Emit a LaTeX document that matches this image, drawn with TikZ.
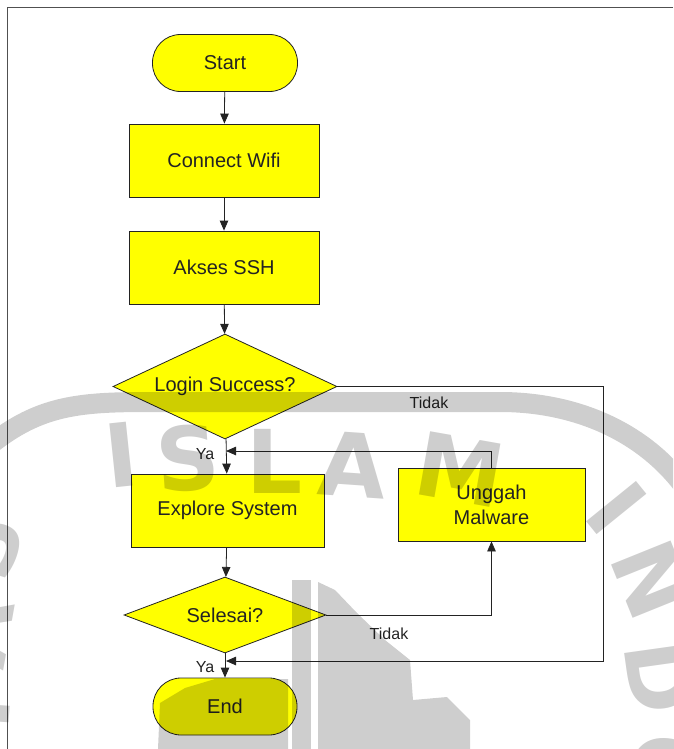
\documentclass[tikz,border=0pt]{standalone}
\usepackage{fontspec}
\setmainfont{Liberation Sans}
\newfontfamily\wmfont{DejaVu Sans}
\usetikzlibrary{shapes.geometric,arrows.meta}
\definecolor{flowyellow}{RGB}{255,255,0}
\definecolor{inkgray}{RGB}{35,35,35}
\definecolor{framegray}{RGB}{80,80,80}
\definecolor{wmgray}{RGB}{206,206,206}
\begin{document}
\begin{tikzpicture}[x=1pt,y=-1pt,
  box/.style={draw=inkgray,line width=0.8pt,fill=flowyellow,text=inkgray,
    font=\fontsize{20}{25}\selectfont,inner sep=0pt,align=center},
  proc/.style={box,rectangle,minimum width=190pt,minimum height=73pt},
  term/.style={box,rectangle,rounded corners=28pt,minimum width=145pt,minimum height=57pt},
  decide/.style={box,diamond},
  link/.style={draw=inkgray,line width=0.8pt},
  flow/.style={link,-{Triangle[length=10pt,width=8.5pt]}},
  tag/.style={font=\fontsize{16}{19}\selectfont,text=inkgray,inner sep=0pt},
  wmletter/.style={text=wmgray,font=\wmfont\fontsize{88}{88}\selectfont\bfseries,inner sep=0pt},
]
\useasboundingbox (0,0) rectangle (673,749);

% page frame
\draw[framegray,line width=0.8pt] (673,7) -- (7,7) -- (7,749);

% flowchart nodes
\node[term] (start) at (225,63) {Start};
\node[proc] (wifi) at (224,160.5) {Connect Wifi};
\node[proc] (ssh) at (224,267.5) {Akses SSH};
\node[decide,aspect=2.13,minimum width=224pt,minimum height=105pt] (login) at (225,386.5) {Login Success?};
\node[proc,minimum width=193pt] (explore) at (227.5,510.5) {Explore System};
\node[proc,minimum width=187pt] (unggah) at (491.5,504.5) {Unggah\\[0pt]Malware};
\node[decide,aspect=2.66,minimum width=202pt,minimum height=76pt] (selesai) at (225,615) {Selesai?};
\node[term,minimum width=144pt] (end) at (225,706.5) {End};

% junction points on the main line
\coordinate (ja) at (226,451);
\coordinate (jb) at (226,661);
\coordinate (rx) at (603,0);

% main flow
\draw[flow] (start) -- (wifi);
\draw[flow] (wifi) -- (ssh);
\draw[flow] (ssh) -- (login);
\draw[flow] (login) -- (explore);
\draw[flow] (explore) -- (selesai);
\draw[flow] (selesai) -- (end);

% loops
\draw[flow] (login.east) -- (login.east -| rx) |- (jb);
\draw[flow] (unggah.north) |- (ja);
\draw[flow] (selesai.east) -| (unggah.south);

% branch labels
\node[tag] (yaone) at (205,454) {Ya};
\node[tag] (tidakone) at (429,403) {Tidak};
\node[tag] (tidaktwo) at (389,634) {Tidak};
\node[tag] (yatwo) at (205,667) {Ya};

% watermark
\begin{scope}[blend mode=multiply]
  \clip (0,0) rectangle (673,749);
  \draw[wmgray,line width=20pt] (-10,445) .. controls (40,405) and (80,402) .. (150,402)
    -- (500,402) .. controls (580,402) and (650,435) .. (690,495);
  \node[wmletter,rotate=6] (wmi) at (121,455) {I};
  \node[wmletter,rotate=4] (wms) at (188,458) {S};
  \node[wmletter] (wml) at (275,461) {L};
  \node[wmletter,rotate=-4] (wma) at (353,465) {A};
  \node[wmletter,rotate=-10] (wmm) at (460,470) {M};
  \node[wmletter,rotate=-51] (wmi2) at (617,508) {I};
  \node[wmletter,rotate=-68] (wmn) at (652,580) {N};
  \node[wmletter,rotate=-82] (wmd) at (660,677) {D};
  \node[wmletter,rotate=-95] (wmo) at (665,772) {O};
  \node[wmletter,rotate=72] (wms2) at (-14,545) {S};
  \node[wmletter,rotate=80] (wma2) at (-22,632) {A};
  \node[wmletter,rotate=86] (wmt2) at (-22,712) {T};
  % emblem
  \fill[wmgray] (292,580) -- (311,580) -- (311,749) -- (292,749) -- cycle;
  \fill[wmgray] (318,582) -- (335,590) -- (357,613) -- (385,640) -- (410,660)
    -- (413,700) -- (447,697) -- (470,720) -- (470,749) -- (318,749) -- cycle;
  \fill[wmgray] (158,749) -- (160,703) -- (185,688) -- (215,679) -- (288,679)
    -- (288,749) -- cycle;
\end{scope}
\end{tikzpicture}
\end{document}
